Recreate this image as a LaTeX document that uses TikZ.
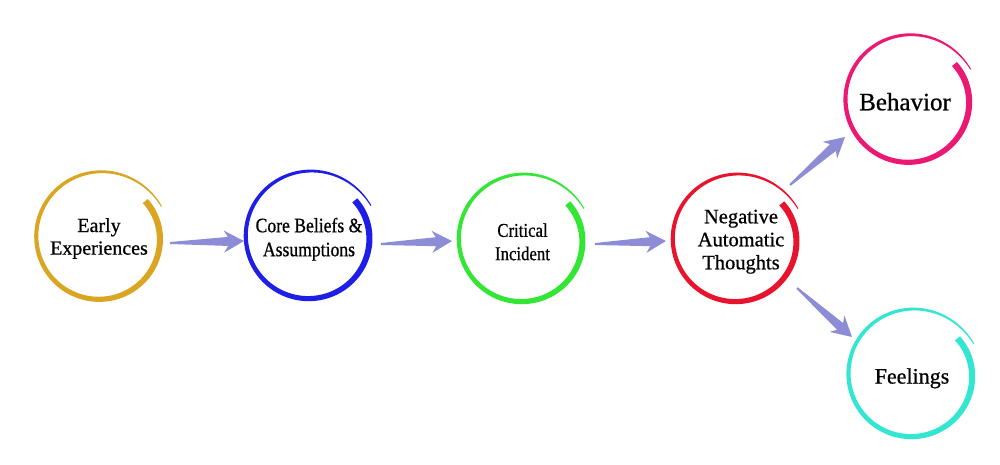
\documentclass[tikz,border=0pt]{standalone}
\usepackage{fontspec}
\setmainfont{Liberation Serif}[FakeBold=0.7]
\newfontfamily\plainserif[FakeBold=0.7]{Liberation Serif}
\newfontfamily\condserif[FakeStretch=0.86,FakeBold=0.7]{Liberation Serif}
\usetikzlibrary{calc}
\definecolor{cgold}{HTML}{DAA520}
\definecolor{cblue}{HTML}{1E1EE6}
\definecolor{cgreen}{HTML}{33E633}
\definecolor{cred}{HTML}{E8142D}
\definecolor{cpink}{HTML}{EB1973}
\definecolor{ccyan}{HTML}{33E6D2}
\definecolor{arrowc}{HTML}{8C8CD7}
\tikzset{
  ringnode/.style={circle, minimum size=132pt, inner sep=0pt},
  label/.style={align=center, inner sep=0pt, text=black},
  arrowfill/.style={fill=arrowc, draw=none}
}
% brush-like spiral ring around a named node
\newcommand\brushring[2]{%
  \fill[#2, shift={(#1)}]
    plot[domain=0:1, samples=160, variable=\t]
      ({(63-5*(1-\t)^6+6*\t^6+(6.5-4*\t-1.5*\t^8)/2)*cos(38-372*\t)},
       {-(63-5*(1-\t)^6+6*\t^6+(6.5-4*\t-1.5*\t^8)/2)*sin(38-372*\t)})
    -- plot[domain=1:0, samples=160, variable=\t]
      ({(63-5*(1-\t)^6+6*\t^6-(6.5-4*\t-1.5*\t^8)/2)*cos(38-372*\t)},
       {-(63-5*(1-\t)^6+6*\t^6-(6.5-4*\t-1.5*\t^8)/2)*sin(38-372*\t)})
    -- cycle;}
% tapered block arrow from #1 (tail) to #2 (tip)
\newcommand\flowarrow[2]{%
  \fill[arrowfill]
    ($(#1)!1pt!90:(#2)$)
    -- ($(#2)!16pt!(#1)!4.5pt!90:(#2)$)
    -- ($(#2)!20pt!(#1)!11pt!90:(#2)$)
    -- (#2)
    -- ($(#2)!20pt!(#1)!11pt!-90:(#2)$)
    -- ($(#2)!16pt!(#1)!4.5pt!-90:(#2)$)
    -- ($(#1)!1pt!-90:(#2)$)
    -- cycle;}
\begin{document}
\begin{tikzpicture}[x=1pt, y=-1pt]
\useasboundingbox (0,0) rectangle (1000,464);
\fill[white] (0,0) rectangle (1000,464);

% circle nodes
\node[ringnode] (c1) at (99.5,236.7) {};
\node[ringnode] (c2) at (309,236) {};
\node[ringnode] (c3) at (522,239) {};
\node[ringnode] (c4) at (736,239) {};
\node[ringnode] (c5) at (908.7,99.7) {};
\node[ringnode] (c6) at (911.7,374) {};

\brushring{c1}{cgold}
\brushring{c2}{cblue}
\brushring{c3}{cgreen}
\brushring{c4}{cred}
\brushring{c5}{cpink}
\brushring{c6}{ccyan}

% labels
\node[label, font=\plainserif\fontsize{20}{22.6}\selectfont] (t1) at (99,238.5) {Early\\Experiences};
\node[label, font=\condserif\fontsize{20.5}{24}\selectfont] (t2) at (309,239.2) {Core Beliefs \&\\Assumptions};
\node[label, font=\condserif\fontsize{19.5}{23.3}\selectfont] (t3) at (522.5,241.8) {Critical\\Incident};
\node[label, font=\plainserif\fontsize{20.5}{23}\selectfont] (t4) at (741,241.7) {Negative\\Automatic\\Thoughts};
\node[label, font=\plainserif\fontsize{25}{28}\selectfont] (t5) at (905,101.7) {Behavior};
\node[label, font=\plainserif\fontsize{22}{25}\selectfont] (t6) at (912,378.3) {Feelings};

% arrow end points
\coordinate (a1s) at (170,243);  \coordinate (a1e) at (244,241);
\coordinate (a2s) at (381,244);  \coordinate (a2e) at (452,241);
\coordinate (a3s) at (595,244);  \coordinate (a3e) at (666,241);
\coordinate (a4s) at (790,185);  \coordinate (a4e) at (845,137);
\coordinate (a5s) at (797,288);  \coordinate (a5e) at (852,337);

\flowarrow{a1s}{a1e}
\flowarrow{a2s}{a2e}
\flowarrow{a3s}{a3e}
\flowarrow{a4s}{a4e}
\flowarrow{a5s}{a5e}
\end{tikzpicture}
\end{document}
